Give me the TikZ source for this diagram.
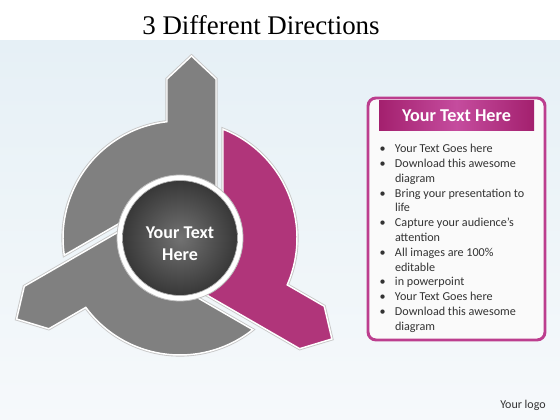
\documentclass[tikz,border=0pt]{standalone}
\usepackage{fontspec}
\setmainfont{Carlito}
\newfontfamily\titlefont{Liberation Serif}
\usetikzlibrary{positioning}

\definecolor{segGray}{HTML}{808080}
\definecolor{segPink}{HTML}{B0357A}
\definecolor{hubIn}{HTML}{727272}
\definecolor{hubOut}{HTML}{383838}
\definecolor{panelPink}{HTML}{BC3E8E}
\definecolor{headDark}{HTML}{A3206E}
\definecolor{headLight}{HTML}{C54C9E}
\definecolor{bgTop}{HTML}{E6F0F6}
\definecolor{bgBot}{HTML}{F6F9FB}
\definecolor{txtDark}{HTML}{333333}

\newcommand\bul{\makebox[11.5pt][l]{\textbullet}}
\newcommand\ind{\hspace*{11.5pt}}

\tikzset{
  seg/.style={fill=#1, draw=white, line width=1.1pt,
    preaction={draw=black!22, line width=2.4pt}},
  hubtext/.style={text=white, font=\bfseries\fontsize{13.5}{16.7}\selectfont, align=center},
  panelbox/.style={draw=panelPink, line width=2.2pt, rounded corners=6pt, fill=white!96!gray,
    minimum width=132.75pt, minimum height=181.5pt},
  headbar/.style={left color=headDark, right color=headDark, middle color=headLight,
    minimum width=116.25pt, minimum height=22.5pt, inner sep=0pt,
    text=white, font=\bfseries\fontsize{13.6}{16}\selectfont},
  itemtext/.style={align=left, inner sep=0pt, text=txtDark,
    font=\fontsize{9.1}{11.1}\selectfont}
}

\begin{document}
\begin{tikzpicture}[x=0.75pt,y=0.75pt]
  \useasboundingbox (0,0) rectangle (560,420);
  % Background
  \fill[white] (0,379) rectangle (560,420);
  \shade[top color=bgTop, bottom color=bgBot] (0,0) rectangle (560,379);

  % Title
  \node[font=\titlefont\fontsize{20.2}{24}\selectfont, anchor=base] (title) at (261,385) {3 Different Directions};

  % Wheel
  \begin{scope}[shift={(180,182)}]
    \foreach \ang/\col in {0/segGray, -120/segPink, 120/segGray}
      \path[seg=\col, rotate=\ang] (36,48) -- (36,159) -- (11.5,182) -- (-13,159)
        -- (96.38:117) arc[start angle=96.38, end angle=188.43, radius=117]
        -- (164.22:60) arc[start angle=164.22, end angle=53.13, radius=60] -- cycle;

    % Hub
    \node[circle, fill=white, draw=black!25, line width=0.6pt, minimum size=94.5pt] (ring) at (0,0) {};
    \node[circle, inner color=hubIn, outer color=hubOut, draw=black!30, line width=0.5pt,
      minimum size=86.25pt] (hub) at (0,0) {};
    \node[hubtext] (hubtxt) at (0,-6) {Your Text\\Here};
  \end{scope}

  % Panel
  \node[panelbox] (panel) at (456.5,201) {};
  \node[headbar, below=3pt of panel.north] (head) {Your Text Here};
  \node[itemtext, below right=9.75pt and 0.5pt of head.south west] (items) {%
    \bul Your Text Goes here\\
    \bul Download this awesome\\
    \ind diagram\\
    \bul Bring your presentation to\\
    \ind life\\
    \bul Capture your audience’s\\
    \ind attention\\
    \bul All images are 100\%\\
    \ind editable\\
    \bul in powerpoint\\
    \bul Your Text Goes here\\
    \bul Download this awesome\\
    \ind diagram};

  % Logo
  \node[text=txtDark, font=\fontsize{9}{11}\selectfont] (logo) at (523,15) {Your logo};
\end{tikzpicture}
\end{document}
